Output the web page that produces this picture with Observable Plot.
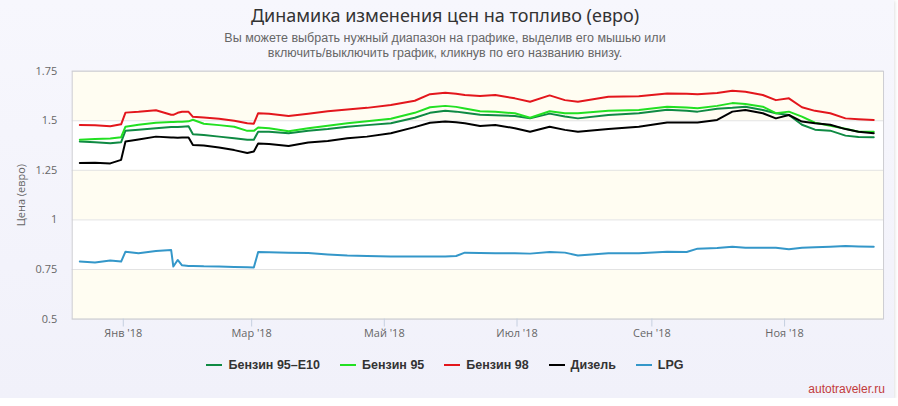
<!DOCTYPE html>
<html>
<head>
<meta charset="utf-8">
<script src="https://cdn.jsdelivr.net/npm/d3@7"></script>
<script src="https://cdn.jsdelivr.net/npm/@observablehq/plot@0.6"></script>
<style>
  html, body { margin: 0; padding: 0; background: #ffffff; }
  #chart { position: relative; width: 894px; height: 398px; background: linear-gradient(#f7f7fd, #f1f1fa); box-shadow: 1px 1px 3px rgba(0,0,0,0.12); overflow: hidden; }
  #title { position: absolute; top: 3px; left: 0; width: 890px; text-align: center; font-family: "Noto Sans", sans-serif; font-size: 18px; color: #333; }
  #subtitle { position: absolute; top: 31px; left: 0; width: 890px; text-align: center; font-family: "Liberation Sans", sans-serif; font-size: 12.5px; line-height: 15px; color: #666; }
  #plot { position: absolute; top: 0; left: 0; }
  #legend { position: absolute; top: 358px; left: 0; width: 890px; display: flex; justify-content: center; font-family: "Liberation Sans", sans-serif; font-weight: bold; font-size: 12.5px; color: #333; }
  .item { display: flex; align-items: center; margin: 0 10px; }
  .sym { width: 16px; height: 2px; margin-right: 6px; }
  #credits { position: absolute; top: 382px; right: 9px; font-family: "Liberation Sans", sans-serif; font-size: 12px; color: #c23b3b; }
</style>
</head>
<body>
<div id="chart">
  <div id="title">Динамика изменения цен на топливо (евро)</div>
  <div id="subtitle">Вы можете выбрать нужный диапазон на графике, выделив его мышью или<br>включить/выключить график, кликнув по его названию внизу.</div>
  <div id="plot"></div>
  <div id="legend"></div>
  <div id="credits">autotraveler.ru</div>
</div>
<script>
const dates = [
  "2017-12-12","2017-12-19","2017-12-26","2017-12-31","2018-01-02","2018-01-08","2018-01-16","2018-01-23","2018-01-24","2018-01-26",
  "2018-01-28","2018-01-31","2018-02-02","2018-02-07","2018-02-14","2018-02-21","2018-02-27","2018-03-02","2018-03-04","2018-03-09",
  "2018-03-18","2018-03-27","2018-04-05","2018-04-14","2018-04-23","2018-05-04","2018-05-15","2018-05-22","2018-05-29","2018-06-03",
  "2018-06-07","2018-06-14","2018-06-21","2018-06-30","2018-07-07","2018-07-16","2018-07-23","2018-07-29","2018-08-12","2018-08-26",
  "2018-09-08","2018-09-17","2018-09-22","2018-10-01","2018-10-08","2018-10-14","2018-10-22","2018-10-28","2018-11-03","2018-11-09",
  "2018-11-15","2018-11-22","2018-11-29","2018-12-05","2018-12-12"
];

const e10 = [
  1.395,1.392,1.387,1.392,1.450,1.455,1.462,1.468,1.468,1.469,
  1.470,1.472,1.432,1.428,1.420,1.412,1.404,1.404,1.445,1.445,
  1.437,1.450,1.458,1.470,1.478,1.487,1.515,1.540,1.551,1.546,
  1.540,1.530,1.528,1.524,1.512,1.536,1.521,1.512,1.529,1.538,
  1.556,1.550,1.546,1.560,1.565,1.571,1.554,1.538,1.529,1.480,
  1.455,1.450,1.425,1.418,1.417
];

const b95 = [
  1.404,1.408,1.410,1.417,1.470,1.480,1.490,1.494,1.494,1.495,
  1.495,1.497,1.505,1.485,1.478,1.470,1.449,1.449,1.466,1.462,
  1.447,1.462,1.475,1.487,1.497,1.510,1.540,1.568,1.575,1.570,
  1.562,1.548,1.545,1.538,1.515,1.548,1.538,1.538,1.551,1.554,
  1.571,1.567,1.563,1.575,1.589,1.585,1.571,1.538,1.546,1.521,
  1.490,1.475,1.460,1.445,1.445
];

const b98 = [
  1.479,1.477,1.472,1.482,1.541,1.545,1.553,1.530,1.530,1.540,
  1.545,1.545,1.520,1.516,1.510,1.500,1.487,1.485,1.538,1.535,
  1.524,1.535,1.548,1.557,1.565,1.579,1.601,1.634,1.641,1.636,
  1.630,1.625,1.630,1.613,1.596,1.628,1.604,1.596,1.621,1.624,
  1.638,1.636,1.634,1.640,1.651,1.646,1.630,1.604,1.613,1.568,
  1.550,1.538,1.512,1.508,1.504
];

const diesel = [
  1.287,1.288,1.285,1.303,1.395,1.405,1.420,1.415,1.415,1.414,
  1.415,1.416,1.378,1.375,1.365,1.352,1.337,1.345,1.385,1.383,
  1.373,1.390,1.398,1.412,1.420,1.437,1.468,1.490,1.496,1.492,
  1.487,1.474,1.479,1.462,1.445,1.470,1.454,1.445,1.458,1.470,
  1.491,1.491,1.491,1.504,1.546,1.554,1.538,1.512,1.529,1.496,
  1.487,1.480,1.458,1.445,1.437
];

const lpg = [
  0.790,0.785,0.795,0.790,0.840,0.832,0.843,0.848,0.765,0.798,
  0.771,0.768,0.768,0.766,0.765,0.763,0.761,0.760,0.838,0.837,
  0.835,0.833,0.826,0.820,0.818,0.816,0.815,0.815,0.816,0.818,
  0.835,0.833,0.832,0.832,0.830,0.838,0.835,0.821,0.832,0.832,
  0.840,0.838,0.855,0.858,0.865,0.860,0.860,0.860,0.852,0.860,
  0.862,0.865,0.868,0.866,0.865
];

const seriesNames = ["Бензин 95–E10", "Бензин 95", "Бензин 98", "Дизель", "LPG"];
const seriesColors = ["#0f8a43", "#22e022", "#e3161c", "#000000", "#3497c9"];
const seriesValues = [e10, b95, b98, diesel, lpg];

const yTicks = [0.5, 0.75, 1, 1.25, 1.5, 1.75];
const yTickLabels = ["0.5", "0.75", "1", "1.25", "1.5", "1.75"];
const xTicks = ["2018-01-01", "2018-03-01", "2018-05-01", "2018-07-01", "2018-09-01", "2018-11-01"];
const xTickLabels = ["Янв '18", "Мар '18", "Май '18", "Июл '18", "Сен '18", "Ноя '18"];
const whiteBands = [[0.75, 1], [1.25, 1.5]];

const data = seriesNames.flatMap((name, s) =>
  dates.map((d, i) => ({ date: new Date(d + "T00:00Z"), value: seriesValues[s][i], name }))
);
const xTickDates = xTicks.map(d => new Date(d + "T00:00Z"));
const xLabelOf = d => xTickLabels[xTickDates.findIndex(t => +t === +d)];
const yLabelOf = v => yTickLabels[yTicks.indexOf(v)];

const chart = Plot.plot({
  width: 898,
  height: 345,
  marginTop: 71,
  marginBottom: 25,
  marginLeft: 72,
  marginRight: 11,
  style: { background: "transparent", fontFamily: "'Open Sans', sans-serif", fontSize: "11px", color: "#666" },
  x: { type: "utc", domain: [new Date("2017-12-08T12:00Z"), new Date("2018-12-16T12:00Z")] },
  y: { domain: [0.5, 1.75] },
  color: { domain: seriesNames, range: seriesColors },
  marks: [
    Plot.frame({ fill: "#fffdf2", stroke: null }),
    Plot.rect(whiteBands, { y1: d => d[0], y2: d => d[1], fill: "#ffffff" }),
    Plot.ruleY(yTicks, { stroke: "#e3e3e3", strokeWidth: 1 }),
    Plot.frame({ stroke: "#cdcdd2", strokeWidth: 1 }),
    Plot.lineY(data, { x: "date", y: "value", z: "name", stroke: "name", strokeWidth: 2 }),
    Plot.axisY(yTicks, {
      tickSize: 0, tickPadding: 15, tickFormat: yLabelOf, fill: "#666", fontSize: 11,
      label: "Цена (евро)", labelAnchor: "center", labelOffset: 55, labelArrow: "none"
    }),
    Plot.axisX(xTickDates, {
      tickSize: 8, tickPadding: 2, tickFormat: xLabelOf, stroke: "#c6d0e0", fill: "#666", fontSize: 11, label: null
    })
  ]
});
document.getElementById("plot").appendChild(chart);

const legend = document.getElementById("legend");
seriesNames.forEach((name, i) => {
  const item = document.createElement("div");
  item.className = "item";
  const sym = document.createElement("span");
  sym.className = "sym";
  sym.style.background = seriesColors[i];
  const txt = document.createElement("span");
  txt.textContent = name;
  item.appendChild(sym);
  item.appendChild(txt);
  legend.appendChild(item);
});
</script>
</body>
</html>
